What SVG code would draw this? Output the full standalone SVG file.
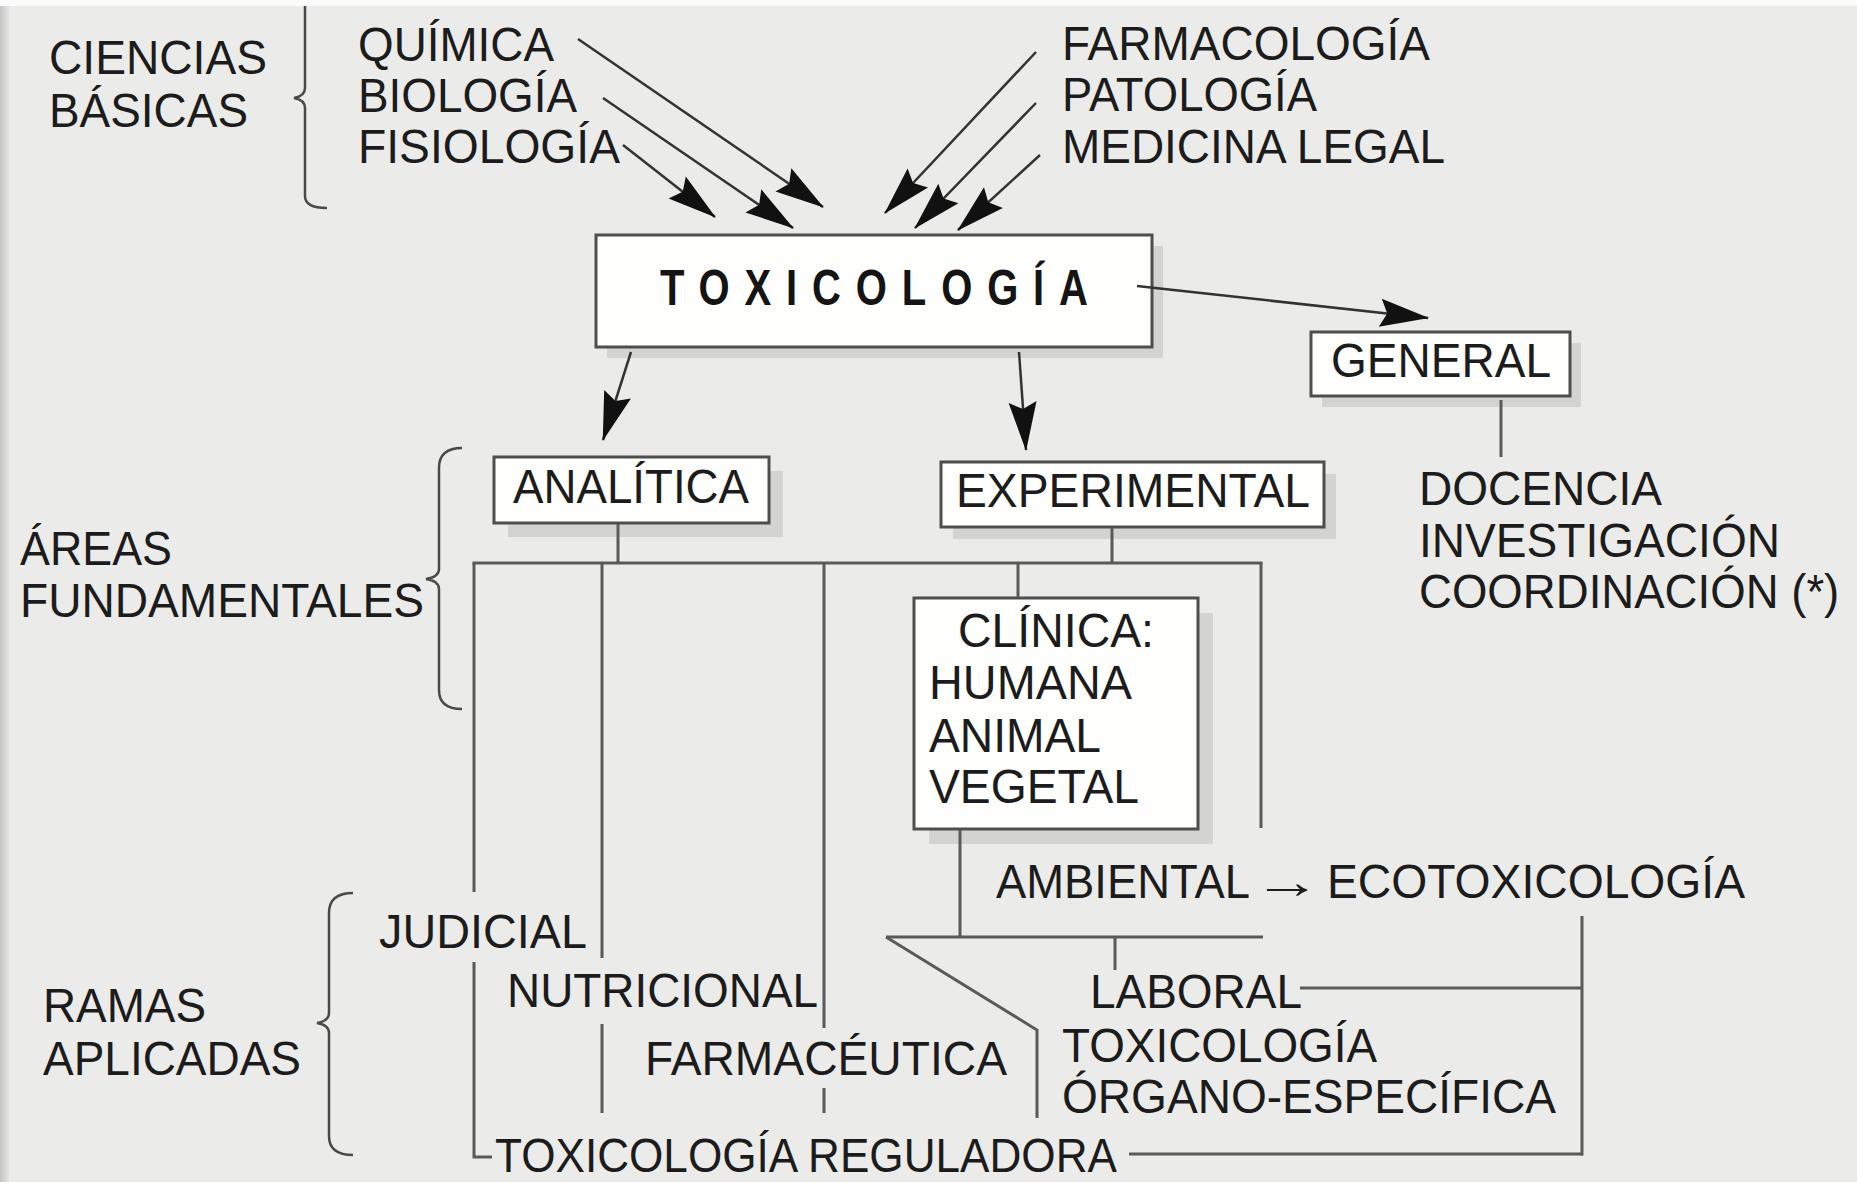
<svg xmlns="http://www.w3.org/2000/svg" width="1857" height="1182" viewBox="0 0 1857 1182">
<style>
.t{font-family:'Liberation Sans Narrow','Liberation Sans',Arial,sans-serif;font-size:48px;fill:#1c1c1c}
.tb{font-family:'Liberation Sans',Arial,sans-serif;font-size:50px;font-weight:bold;fill:#141414}
.box{fill:#fefefd;stroke:#4e4e4e;stroke-width:3}
.sh{fill:#d3d3d2}
.ln{fill:none;stroke:#5a5a5a;stroke-width:3}
.ar{fill:none;stroke:#333;stroke-width:2.5}
.br{fill:none;stroke:#4a4a4a;stroke-width:2.5}
</style>
<defs>
<marker id="ah" markerUnits="userSpaceOnUse" viewBox="-50 -16 52 32" markerWidth="52" markerHeight="32" refX="0" refY="0" orient="auto">
<path d="M1,0 L-48,-14 L-41,0 L-48,14 Z" fill="#111"/>
</marker>
<linearGradient id="edge" x1="0" y1="0" x2="1" y2="0">
<stop offset="0" stop-color="#c4c4c4"/>
<stop offset="1" stop-color="#e4e4e2"/>
</linearGradient>
</defs>
<rect x="0" y="0" width="1857" height="1182" fill="#ebebe9"/>
<rect x="0" y="0" width="1857" height="6" fill="#fbfbfb"/>
<rect x="0" y="6" width="9" height="1176" fill="url(#edge)"/>

<g id="ciencias-basicas">
<path class="br" d="M305,6 L305,88 Q305,96 294,98 Q305,100 305,108 L305,196 Q305,208 327,208"/>
<text class="t" x="49" y="74" textLength="218" lengthAdjust="spacingAndGlyphs">CIENCIAS</text>
<text class="t" x="49" y="127" textLength="199" lengthAdjust="spacingAndGlyphs">BÁSICAS</text>
</g>
<g id="quimica"><text class="t" x="358" y="61" textLength="196" lengthAdjust="spacingAndGlyphs">QUÍMICA</text></g>
<g id="biologia"><text class="t" x="358" y="112" textLength="219" lengthAdjust="spacingAndGlyphs">BIOLOGÍA</text></g>
<g id="fisiologia"><text class="t" x="358" y="163" textLength="262" lengthAdjust="spacingAndGlyphs">FISIOLOGÍA</text></g>
<g id="farmacologia"><text class="t" x="1062" y="60" textLength="368" lengthAdjust="spacingAndGlyphs">FARMACOLOGÍA</text></g>
<g id="patologia"><text class="t" x="1062" y="111" textLength="255" lengthAdjust="spacingAndGlyphs">PATOLOGÍA</text></g>
<g id="medicina-legal"><text class="t" x="1062" y="163" textLength="383" lengthAdjust="spacingAndGlyphs">MEDICINA LEGAL</text></g>

<g id="toxicologia">
<rect class="sh" x="607" y="246" width="556" height="112"/>
<rect class="box" x="596" y="235" width="556" height="112"/>
<text class="tb" x="0" y="0" transform="translate(660,305) scale(0.8,1)" textLength="535" lengthAdjust="spacing">TOXICOLOGÍA</text>
</g>

<g id="general">
<rect class="sh" x="1322" y="343" width="259" height="64"/>
<rect class="box" x="1311" y="332" width="259" height="64"/>
<text class="t" x="1331" y="377" textLength="220" lengthAdjust="spacingAndGlyphs">GENERAL</text>
</g>
<g id="docencia">
<text class="t" x="1419" y="505" textLength="243" lengthAdjust="spacingAndGlyphs">DOCENCIA</text>
<text class="t" x="1419" y="557" textLength="361" lengthAdjust="spacingAndGlyphs">INVESTIGACIÓN</text>
<text class="t" x="0" y="0" transform="translate(1419,608) scale(0.9,1)" textLength="467" lengthAdjust="spacingAndGlyphs">COORDINACIÓN (*)</text>
</g>

<g id="areas-fundamentales">
<path class="br" d="M462,448 Q439,448 439,468 L439,569 Q439,577 426,579 Q439,581 439,589 L439,690 Q439,709 462,709"/>
<text class="t" x="20" y="565" textLength="152" lengthAdjust="spacingAndGlyphs">ÁREAS</text>
<text class="t" x="20" y="617" textLength="404" lengthAdjust="spacingAndGlyphs">FUNDAMENTALES</text>
</g>

<g id="analitica">
<rect class="sh" x="508" y="471" width="275" height="66"/>
<rect class="box" x="494" y="457" width="275" height="66"/>
<text class="t" x="513" y="503" textLength="236" lengthAdjust="spacingAndGlyphs">ANALÍTICA</text>
</g>

<g id="experimental">
<rect class="sh" x="953" y="474" width="383" height="65"/>
<rect class="box" x="941" y="462" width="383" height="65"/>
<text class="t" x="956" y="507" textLength="354" lengthAdjust="spacingAndGlyphs">EXPERIMENTAL</text>
</g>

<g id="clinica">
<rect class="sh" x="929" y="613" width="284" height="231"/>
<rect class="box" x="914" y="598" width="284" height="231"/>
<text class="t" x="958" y="647" textLength="196" lengthAdjust="spacingAndGlyphs">CLÍNICA:</text>
<text class="t" x="929" y="699" textLength="203" lengthAdjust="spacingAndGlyphs">HUMANA</text>
<text class="t" x="929" y="752" textLength="172" lengthAdjust="spacingAndGlyphs">ANIMAL</text>
<text class="t" x="929" y="803" textLength="210" lengthAdjust="spacingAndGlyphs">VEGETAL</text>
</g>

<g id="ambiental">
<text class="t" x="0" y="0" transform="translate(996,898) scale(0.92,1)" textLength="276" lengthAdjust="spacingAndGlyphs">AMBIENTAL</text>
<text class="t" x="0" y="0" transform="translate(1253,898) scale(1.42,1)">→</text>
<text class="t" x="1327" y="898" textLength="418" lengthAdjust="spacingAndGlyphs">ECOTOXICOLOGÍA</text>
</g>

<g id="ramas-aplicadas">
<path class="br" d="M353,893 Q329,893 329,913 L329,1013 Q329,1021 317,1023 Q329,1025 329,1033 L329,1136 Q329,1155 353,1155"/>
<text class="t" x="43" y="1022" textLength="163" lengthAdjust="spacingAndGlyphs">RAMAS</text>
<text class="t" x="43" y="1075" textLength="258" lengthAdjust="spacingAndGlyphs">APLICADAS</text>
</g>
<g id="judicial"><text class="t" x="379" y="948" textLength="208" lengthAdjust="spacingAndGlyphs">JUDICIAL</text></g>
<g id="nutricional"><text class="t" x="507" y="1007" textLength="311" lengthAdjust="spacingAndGlyphs">NUTRICIONAL</text></g>
<g id="farmaceutica"><text class="t" x="645" y="1075" textLength="362" lengthAdjust="spacingAndGlyphs">FARMACÉUTICA</text></g>
<g id="laboral"><text class="t" x="1090" y="1008" textLength="212" lengthAdjust="spacingAndGlyphs">LABORAL</text></g>
<g id="organo-especifica">
<text class="t" x="1062" y="1062" textLength="315" lengthAdjust="spacingAndGlyphs">TOXICOLOGÍA</text>
<text class="t" x="1062" y="1113" textLength="494" lengthAdjust="spacingAndGlyphs">ÓRGANO-ESPECÍFICA</text>
</g>
<g id="reguladora"><text class="t" x="495" y="1172" textLength="622" lengthAdjust="spacingAndGlyphs">TOXICOLOGÍA REGULADORA</text></g>

<g id="connectors">
<line class="ar" x1="578" y1="39" x2="823" y2="207" marker-end="url(#ah)"/>
<line class="ar" x1="603" y1="98" x2="793" y2="228" marker-end="url(#ah)"/>
<line class="ar" x1="623" y1="145" x2="715" y2="217" marker-end="url(#ah)"/>
<line class="ar" x1="1036" y1="52" x2="885" y2="213" marker-end="url(#ah)"/>
<line class="ar" x1="1036" y1="103" x2="915" y2="228" marker-end="url(#ah)"/>
<line class="ar" x1="1040" y1="155" x2="958" y2="230" marker-end="url(#ah)"/>
<line class="ar" x1="631" y1="352" x2="603" y2="440" marker-end="url(#ah)"/>
<line class="ar" x1="1019" y1="352" x2="1026" y2="450" marker-end="url(#ah)"/>
<line class="ar" x1="1137" y1="286" x2="1428" y2="318" stroke-width="3" marker-end="url(#ah)"/>
<line class="ln" x1="1501" y1="400" x2="1501" y2="457"/>
<line class="ln" x1="618" y1="524" x2="618" y2="563"/>
<line class="ln" x1="1112" y1="528" x2="1112" y2="563"/>
<line class="ln" x1="472.5" y1="563" x2="1262.5" y2="563"/>
<line class="ln" x1="474" y1="563" x2="474" y2="892"/>
<polyline class="ln" points="474,962 474,1157 492,1157"/>
<line class="ln" x1="602" y1="563" x2="602" y2="958"/>
<line class="ln" x1="602" y1="1024" x2="602" y2="1113"/>
<line class="ln" x1="824" y1="563" x2="824" y2="1028"/>
<line class="ln" x1="824" y1="1088" x2="824" y2="1113"/>
<line class="ln" x1="1018" y1="563" x2="1018" y2="597"/>
<line class="ln" x1="1261" y1="563" x2="1261" y2="828"/>
<line class="ln" x1="960" y1="830" x2="960" y2="937"/>
<line class="ln" x1="886" y1="937" x2="1263" y2="937"/>
<polyline class="ln" points="886,937 1037,1030 1037,1118"/>
<line class="ln" x1="1115" y1="937" x2="1115" y2="970"/>
<line class="ln" x1="1300" y1="988" x2="1582" y2="988"/>
<line class="ln" x1="1582" y1="916" x2="1582" y2="1155.5"/>
<line class="ln" x1="1129" y1="1154" x2="1583" y2="1154"/>
</g>
</svg>
